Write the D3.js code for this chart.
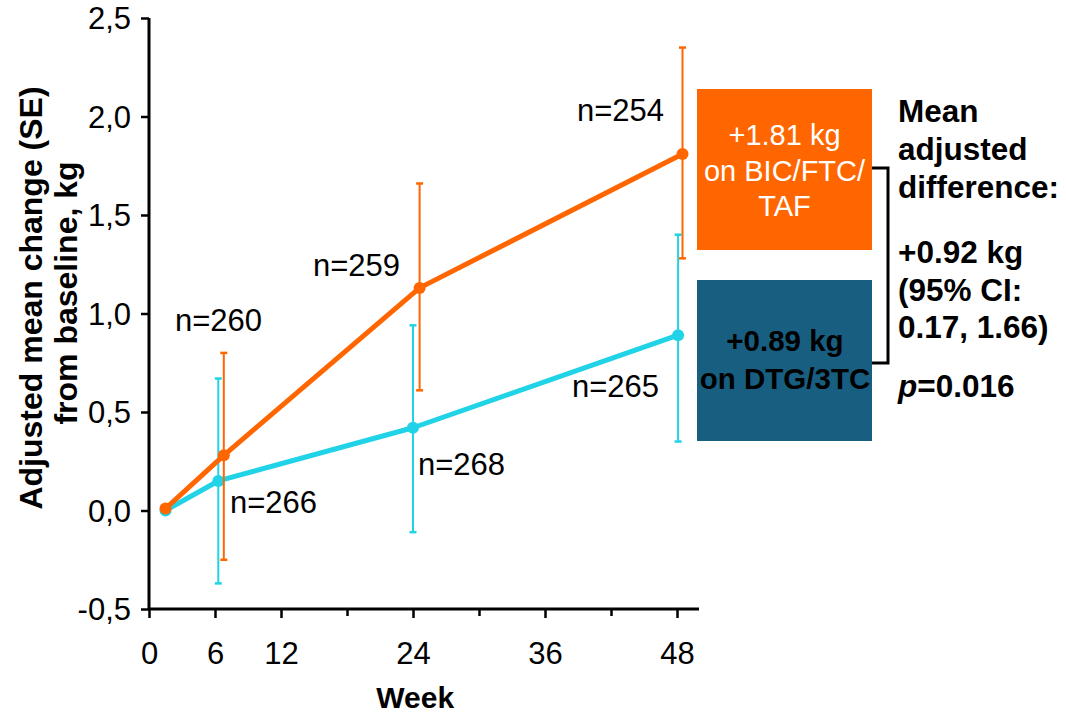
<!DOCTYPE html>
<html><head><meta charset="utf-8">
<script src="https://cdn.jsdelivr.net/npm/d3@7"></script>
<style>
html,body{margin:0;padding:0;background:#fff;}
svg text{font-family:Arial,"Liberation Sans",Helvetica,sans-serif;}
</style></head>
<body><svg id="c" width="1066" height="714"></svg>
<script>
// ---- data ----
const weeks = [0, 6, 24, 48];
const nLabelsBIC = ["", "n=260", "n=259", "n=254"];
const nLabelsDTG = ["", "n=266", "n=268", "n=265"];
// plotted x position (weeks, incl. small dodge as drawn in source)
const plotWeekBIC = [1.5, 6.8, 24.6, 48.5];
const plotWeekDTG = [1.5, 6.3, 24.0, 48.1];
const meanBIC = [0.01, 0.28, 1.13, 1.81];
const lowBIC  = [null, -0.25, 0.61, 1.28];
const highBIC = [null, 0.80, 1.66, 2.35];
const meanDTG = [0.00, 0.15, 0.42, 0.89];
const lowDTG  = [null, -0.37, -0.11, 0.35];
const highDTG = [null, 0.67, 0.94, 1.40];
const yTicks = [-0.5, 0, 0.5, 1.0, 1.5, 2.0, 2.5];
const xTickLabels = [0, 6, 12, 24, 36, 48];
const xTicksAll = [0, 6, 12, 18, 24, 30, 36, 42, 48];
const boxBIC = ["+1.81 kg", "on BIC/FTC/", "TAF"];
const boxDTG = ["+0.89 kg", "on DTG/3TC"];
const diffText = ["Mean", "adjusted", "difference:", "", "+0.92 kg", "(95% CI:", "0.17, 1.66)", "", "p=0.016"];

const ORANGE = "#FF6600", CYAN = "#20D3E6", NAVY = "#175E80";
const FONT = "Arial, 'Liberation Sans', sans-serif";

const svg = d3.select("#c");
const x = d3.scaleLinear().domain([0, 50]).range([149, 699]);
const y = d3.scaleLinear().domain([-0.5, 2.5]).range([609, 18]);

// y axis
const yAxis = d3.axisLeft(y).tickValues(yTicks).tickSize(8).tickPadding(8)
  .tickFormat(d => d.toFixed(1).replace(".", ","));
const gy = svg.append("g").attr("transform", `translate(${x(0)},0)`).call(yAxis);
gy.select(".domain").attr("stroke", "#000").attr("stroke-width", 3).attr("d", `M0,${y(2.5)}V${y(-0.5)}`);
gy.selectAll(".tick line").attr("stroke", "#000").attr("stroke-width", 2.5);
gy.selectAll(".tick text").attr("font-size", 31).attr("fill", "#000").attr("font-family", FONT).attr("dx", -2).attr("dy", "0.35em");

// x axis
const xAxis = d3.axisBottom(x).tickValues(xTicksAll).tickSize(8).tickPadding(25)
  .tickFormat(d => xTickLabels.includes(d) ? d : "");
const gx = svg.append("g").attr("transform", `translate(0,${y(-0.5)})`).call(xAxis);
gx.select(".domain").attr("stroke", "#000").attr("stroke-width", 3).attr("d", `M${x(0)},0H${x(50)}`);
gx.selectAll(".tick line").attr("stroke", "#000").attr("stroke-width", 2.5)
  .attr("y2", d => xTickLabels.includes(d) ? 9 : 7);
gx.selectAll(".tick text").attr("font-size", 31).attr("fill", "#000").attr("font-family", FONT);

// axis titles
svg.append("text").attr("transform", `translate(${x(24.2)},708)`).attr("text-anchor", "middle")
  .attr("font-size", 30).attr("font-weight", "bold").text("Week");
svg.append("text").attr("transform", "translate(42,298) rotate(-90)").attr("text-anchor", "middle")
  .attr("font-size", 32).attr("font-weight", "bold").text("Adjusted mean change (SE)");
svg.append("text").attr("transform", "translate(77,293) rotate(-90)").attr("text-anchor", "middle")
  .attr("font-size", 32).attr("font-weight", "bold").text("from baseline, kg");

function series(pw, mean, lo, hi, color) {
  const g = svg.append("g");
  const idx = d3.range(weeks.length);
  idx.filter(i => lo[i] !== null).forEach(i => {
    const cx = x(pw[i]);
    g.append("line").attr("x1", cx).attr("x2", cx).attr("y1", y(lo[i])).attr("y2", y(hi[i]))
      .attr("stroke", color).attr("stroke-width", 2);
    [lo[i], hi[i]].forEach(v => g.append("line").attr("x1", cx - 3.5).attr("x2", cx + 3.5)
      .attr("y1", y(v)).attr("y2", y(v)).attr("stroke", color).attr("stroke-width", 2.5));
  });
  g.append("path").datum(idx).attr("fill", "none").attr("stroke", color).attr("stroke-width", 5)
    .attr("stroke-linejoin", "round")
    .attr("d", d3.line().x(i => x(pw[i])).y(i => y(mean[i])));
  g.selectAll("circle").data(idx).join("circle").attr("cx", i => x(pw[i])).attr("cy", i => y(mean[i]))
    .attr("r", 6).attr("fill", color);
}
series(plotWeekDTG, meanDTG, lowDTG, highDTG, CYAN);
series(plotWeekBIC, meanBIC, lowBIC, highBIC, ORANGE);

// n labels
function nLabel(txt, px, py) {
  svg.append("text").attr("x", px).attr("y", py).attr("font-size", 31).attr("fill", "#000").text(txt);
}
nLabel(nLabelsBIC[1], 175, 331);
nLabel(nLabelsBIC[2], 313, 276);
nLabel(nLabelsBIC[3], 577, 121);
nLabel(nLabelsDTG[1], 230, 513);
nLabel(nLabelsDTG[2], 418, 475);
nLabel(nLabelsDTG[3], 572, 397);

// boxes
svg.append("rect").attr("x", 697).attr("y", 89).attr("width", 175).attr("height", 161).attr("fill", ORANGE);
svg.append("rect").attr("x", 697).attr("y", 280).attr("width", 175).attr("height", 161).attr("fill", NAVY);
const bicY = [145, 181, 216];
boxBIC.forEach((t, i) => svg.append("text").attr("x", 784.5).attr("y", bicY[i]).attr("text-anchor", "middle")
  .attr("font-size", 29).attr("fill", "#fff").text(t));
const dtgY = [351, 389];
boxDTG.forEach((t, i) => svg.append("text").attr("x", 785).attr("y", dtgY[i]).attr("text-anchor", "middle")
  .attr("font-size", 29.5).attr("font-weight", "bold").attr("fill", "#000").text(t));

// bracket
svg.append("path").attr("d", "M872,168H888V363H872").attr("fill", "none").attr("stroke", "#000").attr("stroke-width", 3);

// difference text
const diffY = [122, 160, 198, null, 263, 301, 338, null, 397];
diffText.forEach((t, i) => {
  if (!t) return;
  const tx = svg.append("text").attr("x", 898).attr("y", diffY[i]).attr("font-size", 31.5).attr("font-weight", "bold").attr("fill", "#000");
  if (t.startsWith("p=")) {
    tx.append("tspan").attr("font-style", "italic").text("p");
    tx.append("tspan").text(t.slice(1));
  } else tx.text(t);
});
</script></body></html>
